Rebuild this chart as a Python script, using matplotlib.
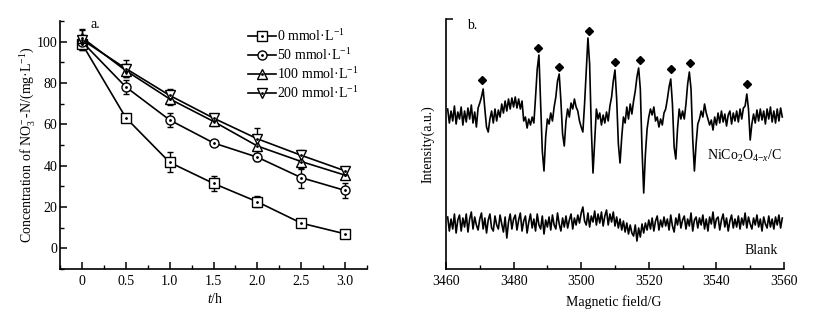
import numpy as np
import matplotlib.pyplot as plt
from matplotlib.ticker import MultipleLocator

plt.rcParams['font.family'] = ['Liberation Serif', 'DejaVu Serif']
plt.rcParams['mathtext.fontset'] = 'custom'
plt.rcParams['mathtext.rm'] = 'Liberation Serif'
plt.rcParams['mathtext.it'] = 'Liberation Serif:italic'
plt.rcParams['font.size'] = 10

# ---- panel a: nitrate removal ----
time_h = [0, 0.5, 1.0, 1.5, 2.0, 2.5, 3.0]
time_labels = ['0', '0.5', '1.0', '1.5', '2.0', '2.5', '3.0']

conc_0 = [99.0, 63.2, 41.6, 31.4, 22.5, 12.2, 7.0]
err_0 = [3.0, 1.5, 4.8, 3.5, 2.7, 1.0, 1.0]
conc_50 = [100.0, 78.1, 62.1, 51.0, 44.1, 34.2, 28.0]
err_50 = [3.0, 3.6, 3.6, 1.5, 2.0, 4.8, 3.4]
conc_100 = [102.0, 86.0, 72.3, 61.4, 49.5, 42.0, 35.4]
err_100 = [3.5, 3.0, 3.0, 2.0, 4.0, 3.5, 2.0]
conc_200 = [101.0, 87.0, 74.0, 63.0, 53.0, 45.0, 37.5]
err_200 = [5.0, 4.0, 3.0, 2.0, 5.0, 2.5, 2.0]

series_labels = ['0 mmol·L$^{-1}$', '50 mmol·L$^{-1}$',
                 '100 mmol·L$^{-1}$', '200 mmol·L$^{-1}$']
series_markers = ['s', 'o', '^', 'v']

# ---- panel b: EPR spectra (heights) ----
field_start = 3460.5
field_step = 0.5
nico_int = [
    160, 146, 158, 148, 163, 145, 157, 150, 162, 144,   # 3460.5
    158, 147, 161, 150, 164, 146, 157, 142, 161, 166,   # 3465.5
    172, 180, 160, 142, 137, 150, 158, 146, 160, 148,   # 3470.5
    159, 152, 165, 156, 168, 158, 170, 160, 171, 162,   # 3475.5
    172, 161, 170, 160, 168, 148, 152, 141, 150, 144,   # 3480.5
    152, 146, 172, 200, 214, 165, 118, 98, 132, 150,    # 3485.5
    145, 156, 148, 162, 172, 188, 195, 168, 135, 123,   # 3490.5
    148, 160, 152, 166, 160, 170, 162, 158, 148, 142,   # 3495.5
    137, 165, 198, 231, 205, 140, 96, 128, 160, 150,    # 3500.5
    156, 144, 154, 146, 157, 148, 163, 172, 188, 199,   # 3505.5
    170, 125, 106, 132, 152, 146, 162, 150, 165, 155,   # 3510.5
    168, 178, 192, 201, 180, 120, 76, 115, 140, 152,    # 3515.5
    160, 154, 162, 148, 152, 142, 150, 144, 156, 160,   # 3520.5
    170, 182, 190, 165, 122, 110, 140, 160, 150, 158,   # 3525.5
    150, 165, 185, 197, 180, 130, 98, 125, 145, 150,    # 3530.5
    158, 152, 165, 156, 150, 144, 149, 139, 152, 144,   # 3535.5
    156, 146, 158, 147, 155, 143, 154, 158, 145, 156,   # 3540.5
    148, 158, 147, 160, 150, 161, 163, 175, 160, 129,   # 3545.5
    145, 155, 146, 159, 148, 160, 149, 158, 145, 160,   # 3550.5
    150, 162, 147, 158, 146, 160, 148, 161, 152,        # 3555.5
]
blank_int = [
    52, 38, 50, 40, 55, 36, 49, 54, 38, 51,
    42, 55, 37, 50, 57, 40, 52, 44, 39, 50,
    56, 40, 51, 36, 49, 55, 41, 38, 53, 44,
    40, 54, 45, 37, 52, 31, 47, 55, 40, 50,
    54, 39, 49, 56, 38, 48, 53, 36, 47, 55,
    41, 50, 38, 55, 44, 40, 53, 35, 49, 42,
    52, 39, 54, 44, 40, 56, 45, 38, 51, 42,
    53, 41, 49, 55, 40, 51, 44, 54, 46, 56,
    62, 48, 44, 56, 42, 53, 47, 58, 44, 55,
    46, 57, 43, 53, 59, 44, 55, 47, 57, 43,
    52, 41, 50, 39, 48, 37, 46, 35, 44, 36,
    33, 44, 28, 41, 32, 45, 36, 46, 39, 49,
    40, 51, 38, 48, 53, 39, 49, 42, 52, 43,
    50, 39, 54, 43, 37, 51, 44, 55, 41, 49,
    53, 40, 50, 43, 56, 38, 49, 52, 41, 51,
    44, 54, 40, 50, 38, 52, 45, 57, 41, 50,
    52, 39, 49, 55, 42, 51, 38, 48, 54, 41,
    50, 42, 53, 40, 51, 44, 56, 41, 52, 45,
    40, 51, 44, 54, 42, 50, 38, 52, 45, 41,
    53, 42, 50, 40, 52, 44, 54, 41, 51,
]
peak_field = [3470.7, 3487.3, 3493.5, 3502.3, 3510.0, 3517.3, 3526.7, 3532.2, 3549.2]
peak_mark = [189, 221, 202, 238, 207, 209, 200, 206, 185]

field = field_start + field_step * np.arange(len(nico_int))

fig = plt.figure(figsize=(8.35, 3.19), dpi=100)
ax1 = fig.add_axes([0.0719, 0.1567, 0.3677, 0.7774])
ax2 = fig.add_axes([0.5341, 0.1567, 0.4048, 0.7837])

concs = [conc_0, conc_50, conc_100, conc_200]
errs = [err_0, err_50, err_100, err_200]
handles = []
for c, e, m, lab in zip(concs, errs, series_markers, series_labels):
    ax1.errorbar(time_h, c, yerr=e, fmt='none', ecolor='black', elinewidth=1,
                 capsize=2.5, capthick=1, zorder=2)
    ln, = ax1.plot(time_h, c, color='black', lw=1.2, marker=m, ms=6.5,
                   mfc='white', mec='black', mew=1.0, zorder=3)
    dot, = ax1.plot(time_h, c, ls='none', marker='.', ms=2, color='black', zorder=4)
    handles.append((ln, dot))

ax1.set_xlim(-0.25, 3.25)
ax1.set_ylim(-10, 110)
ax1.set_xticks(time_h)
ax1.set_xticklabels(time_labels)
ax1.set_yticks([0, 20, 40, 60, 80, 100])
ax1.xaxis.set_minor_locator(MultipleLocator(0.25))
ax1.yaxis.set_minor_locator(MultipleLocator(10))
ax1.set_xlabel('$t$/h')
ax1.set_ylabel('Concentration of NO$_3^-$-N/(mg·L$^{-1}$)')
ax1.xaxis.set_label_coords(0.505, -0.092)
ax1.yaxis.set_label_coords(-0.076, 0.5)
ax1.text(0.1, 108.5, 'a.', va='center', ha='left')
ax1.legend(handles, series_labels, loc='upper right', bbox_to_anchor=(1.0, 1.006),
           frameon=False, handlelength=2.0, handletextpad=0.1, labelspacing=0.23,
           borderaxespad=0.2)

ax2.plot(field, nico_int, color='black', lw=1.2)
ax2.plot(field, blank_int, color='black', lw=1.2)
ax2.plot(peak_field, peak_mark, ls='none', marker='D', ms=4, color='black')
ax2.set_xlim(3460, 3560)
ax2.set_ylim(0, 250)
ax2.set_xticks([3460, 3480, 3500, 3520, 3540, 3560])
ax2.xaxis.set_minor_locator(MultipleLocator(10))
ax2.set_yticks([250])
ax2.set_yticklabels([])
ax2.set_xlabel('Magnetic field/G')
ax2.set_ylabel('Intensity(a.u.)')
ax2.xaxis.set_label_coords(0.497, -0.106)
ax2.yaxis.set_label_coords(-0.033, 0.5)
ax2.text(3466.1, 244, 'b.', va='center', ha='left')
ax2.text(3559.4, 113, 'NiCo$_2$O$_{4\\mathrm{-}x}$/C', va='center', ha='right')
ax2.text(3558.2, 19, 'Blank', va='center', ha='right')

for ax in (ax1, ax2):
    for s in ('top', 'right'):
        ax.spines[s].set_visible(False)
    for s in ('left', 'bottom'):
        ax.spines[s].set_linewidth(1.2)
    ax.tick_params(which='major', direction='in', length=5, width=1.1, pad=4)
    ax.tick_params(which='minor', direction='in', length=3, width=1.0)
    ax.tick_params(axis='y', pad=2)

fig.savefig('out.png', dpi=100)
